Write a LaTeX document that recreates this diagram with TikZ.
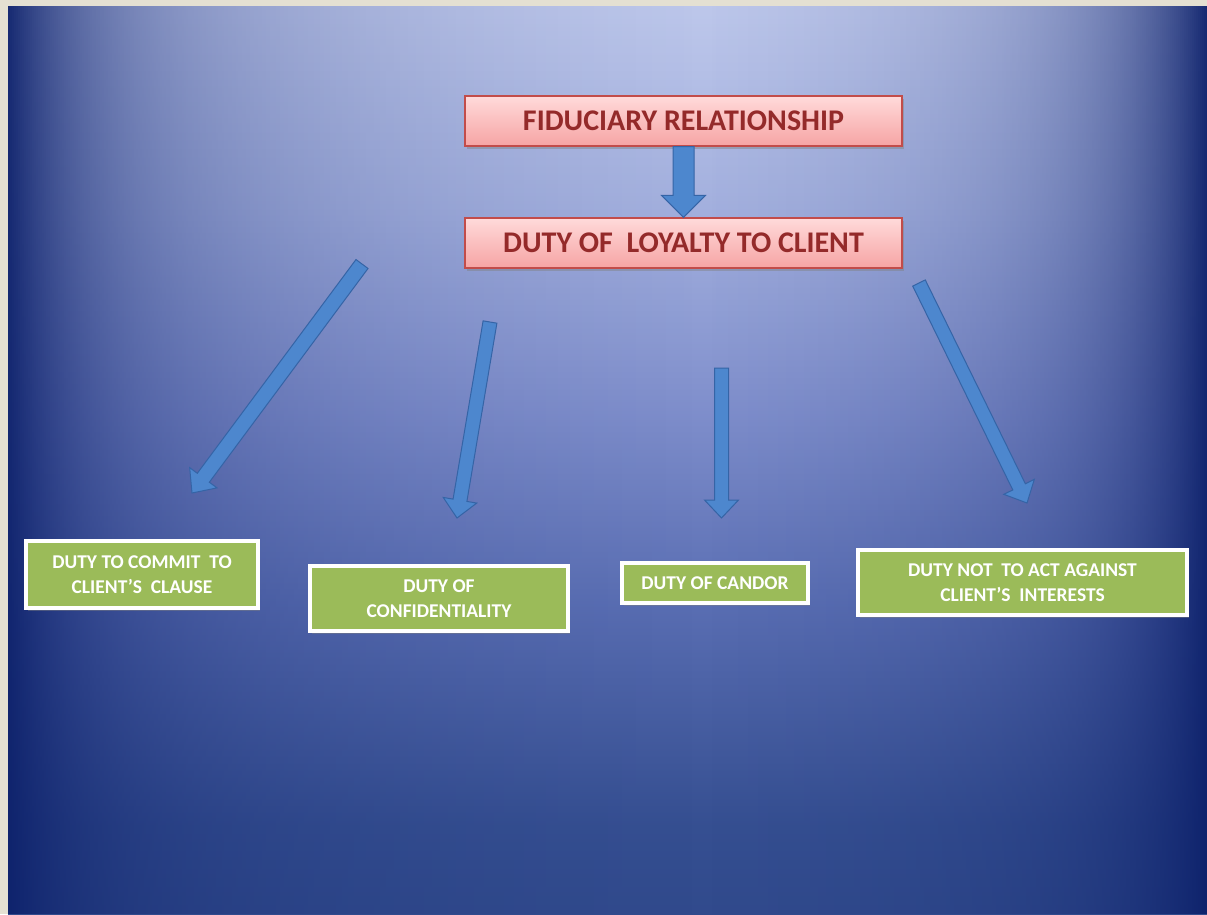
\documentclass[tikz,border=0pt]{standalone}
\usepackage{fontspec}
\setmainfont{Carlito}
\usetikzlibrary{calc,shadows}
\definecolor{beige}{HTML}{E4E0D2}
\definecolor{navy}{rgb}{0.05,0.13,0.42}
\definecolor{pinktop}{HTML}{FFDADA}
\definecolor{pinkbot}{HTML}{F6A4A4}
\definecolor{pinkline}{HTML}{C24C4A}
\definecolor{redtext}{HTML}{942A2A}
\definecolor{greenfill}{HTML}{9BBB59}
\definecolor{arrfill}{HTML}{4D87CE}
\definecolor{arrline}{HTML}{3564A6}
\pgfdeclareverticalshading{vbg}{100bp}{%
  rgb(0bp)=(0.19,0.29,0.55);
  rgb(25bp)=(0.19,0.29,0.55);
  rgb(30bp)=(0.21,0.31,0.57);
  rgb(42bp)=(0.35,0.43,0.70);
  rgb(53bp)=(0.50,0.56,0.80);
  rgb(64bp)=(0.64,0.69,0.87);
  rgb(75bp)=(0.74,0.78,0.92);
  rgb(100bp)=(0.74,0.78,0.92)}
\tikzset{
  pinkbox/.style={draw=pinkline, line width=1.2pt, top color=pinktop, bottom color=pinkbot,
    minimum width=437pt, minimum height=50pt, inner sep=0pt,
    font=\fontsize{30}{34}\selectfont\bfseries, text=redtext,
    drop shadow={opacity=0.45, shadow xshift=2pt, shadow yshift=-3pt}},
  greenbox/.style={draw=white, line width=3.5pt, fill=greenfill, inner sep=0pt, align=center,
    font=\fontsize{19.5}{24.5}\selectfont\bfseries, text=white,
    drop shadow={opacity=0.45, shadow xshift=2pt, shadow yshift=-3pt}},
  blockarr/.style={fill=arrfill, draw=arrline, line width=1pt, line join=miter},
  vig/.style={fill=navy, draw=none}
}
% #1 start, #2 tip, #3 half shaft width, #4 half head width, #5 head length
\newcommand\blockarrow[5]{%
  \coordinate (#1-#2-h) at ($(#2)!#5!(#1)$);
  \path[blockarr] ($(#1)!#3!90:(#2)$) -- ($(#1-#2-h)!#3!90:(#2)$) -- ($(#1-#2-h)!#4!90:(#2)$)
    -- (#2) -- ($(#1-#2-h)!#4!-90:(#2)$) -- ($(#1-#2-h)!#3!-90:(#2)$) -- ($(#1)!#3!-90:(#2)$) -- cycle;
}
\begin{document}
\begin{tikzpicture}[x=1pt,y=-1pt]
\useasboundingbox (0,0) rectangle (1207,914);
\fill[beige] (0,0) rectangle (1207,914);
\shade[shading=vbg] (8,6) rectangle (1207,914);
% edge darkening, drawn as thin strips of smoothly growing opacity
\foreach \i in {0,...,599}{%
  \pgfmathsetmacro{\xx}{8+2*\i}%
  \pgfmathsetmacro{\dl}{\xx+1-8}%
  \pgfmathsetmacro{\dr}{max(0,1207-\xx-1)}%
  \pgfmathsetmacro{\aL}{0.5*exp(-\dl/75)+0.45*max(0,exp(-\dl/380)-0.159)/0.841}%
  \pgfmathsetmacro{\aR}{0.5*exp(-\dr/75)+0.45*max(0,exp(-\dr/280)-0.164)/0.836}%
  \pgfmathsetmacro{\al}{min(0.97,1-(1-\aL)*(1-\aR))}%
  \ifdim\al pt>0.004pt
    \fill[vig, fill opacity=\al] (\xx,6) rectangle (\xx+2,914);
  \fi
}

\node[pinkbox] (fid) at (683.5,121) {FIDUCIARY RELATIONSHIP};
\node[pinkbox] (loy) at (683.5,243) {DUTY OF\ \ LOYALTY TO CLIENT};

\node[greenbox, minimum width=232pt, minimum height=67pt] (g1) at (142,574.5) {DUTY TO COMMIT\ \ TO\\CLIENT'S\ \ CLAUSE};
\node[greenbox, minimum width=258pt, minimum height=65pt] (g2) at (439,598.5) {DUTY OF\\CONFIDENTIALITY};
\node[greenbox, minimum width=186pt, minimum height=40pt] (g3) at (715,583) {DUTY OF CANDOR};
\node[greenbox, minimum width=329pt, minimum height=65pt] (g4) at (1022.5,582.5) {DUTY NOT\ \ TO ACT AGAINST\\CLIENT'S\ \ INTERESTS};

\coordinate (a0) at (fid.south -| 683.5,0);
\coordinate (a0t) at (loy.north -| 683.5,0);
\coordinate (a1) at (362,264);
\coordinate (a1t) at (192,493);
\coordinate (a2) at (490,322);
\coordinate (a2t) at (457,518);
\coordinate (a3) at (721.5,368);
\coordinate (a3t) at (721.5,518);
\coordinate (a4) at (919,283);
\coordinate (a4t) at (1027,503);

\blockarrow{a0}{a0t}{10.5pt}{22pt}{22pt}
\blockarrow{a1}{a1t}{7.5pt}{17pt}{19pt}
\blockarrow{a2}{a2t}{7pt}{17pt}{18pt}
\blockarrow{a3}{a3t}{7pt}{17pt}{18pt}
\blockarrow{a4}{a4t}{7pt}{17pt}{18pt}
\end{tikzpicture}
\end{document}
